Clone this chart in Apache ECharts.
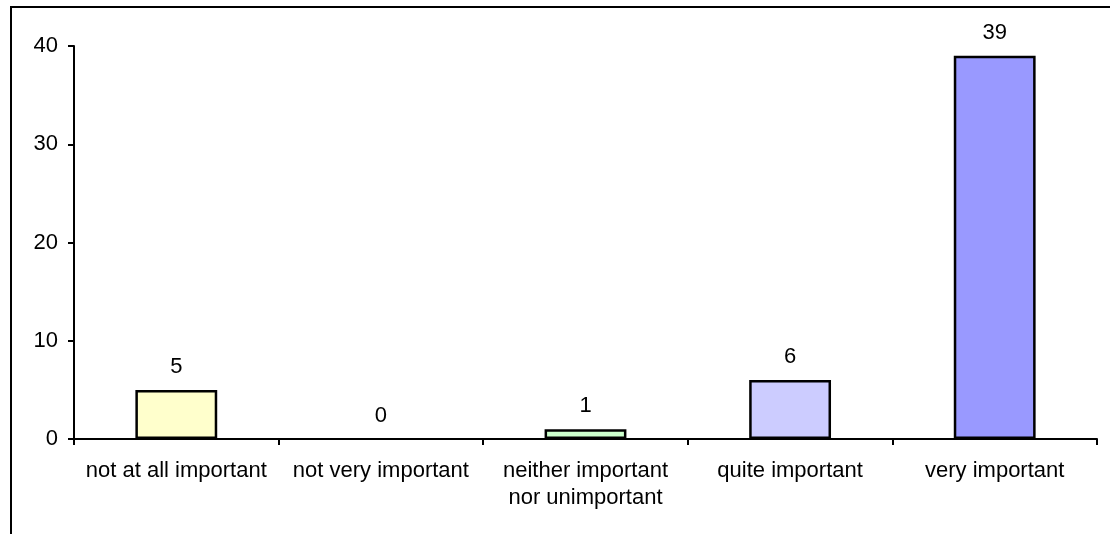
<!DOCTYPE html>
<html>
<head>
<meta charset="utf-8">
<script src="https://cdn.jsdelivr.net/npm/echarts@6/dist/echarts.min.js"></script>
<style>
  html, body { margin: 0; padding: 0; background: #fff; }
  #chart { width: 1110px; height: 534px; }
</style>
</head>
<body>
<div id="chart"></div>
<script>
// Survey responses: how important is it?
const categories = [
  'not at all important',
  'not very important',
  'neither important\nnor unimportant',
  'quite important',
  'very important'
];
const counts = [5, 0, 1, 6, 39];
const barColors = ['#FFFFCC', '#FFCC99', '#CCFFCC', '#CCCCFF', '#9999FF'];
const yTicks = { min: 0, max: 40, interval: 10 };

const font = '"Liberation Sans", Arial, sans-serif';
const chart = echarts.init(document.getElementById('chart'), null, { renderer: 'canvas' });

chart.setOption({
  animation: false,
  backgroundColor: '#fff',
  graphic: [{
    type: 'rect',
    shape: { x: 11, y: 7, width: 1120, height: 560 },
    style: { fill: 'none', stroke: '#000', lineWidth: 2 },
    silent: true
  }],
  grid: { left: 74, right: 13, top: 46, bottom: 95, containLabel: false },
  xAxis: {
    type: 'category',
    data: categories,
    axisLine: { lineStyle: { color: '#000', width: 2 } },
    axisTick: { show: true, alignWithLabel: false, length: 6, lineStyle: { color: '#000', width: 2 } },
    axisLabel: {
      interval: 0,
      margin: 18,
      color: '#000',
      fontSize: 22,
      fontFamily: font,
      lineHeight: 27,
      align: 'center'
    },
    splitLine: { show: false }
  },
  yAxis: {
    type: 'value',
    min: yTicks.min,
    max: yTicks.max,
    interval: yTicks.interval,
    axisLine: { show: true, lineStyle: { color: '#000', width: 2 } },
    axisTick: { show: true, length: 6, lineStyle: { color: '#000', width: 2 } },
    axisLabel: { margin: 16, color: '#000', fontSize: 22, fontFamily: font },
    splitLine: { show: false }
  },
  series: [{
    type: 'bar',
    barWidth: '40%',
    z: 1,
    data: counts.map((v, i) => ({
      value: v,
      // a zero-height bar has nothing to outline
      itemStyle: { color: barColors[i], borderWidth: v === 0 ? 0 : 2.5 }
    })),
    itemStyle: { borderColor: '#000', borderWidth: 2.5 },
    label: {
      show: true,
      position: 'top',
      distance: 12,
      color: '#000',
      fontSize: 22,
      fontFamily: font
    }
  }]
});
</script>
</body>
</html>
